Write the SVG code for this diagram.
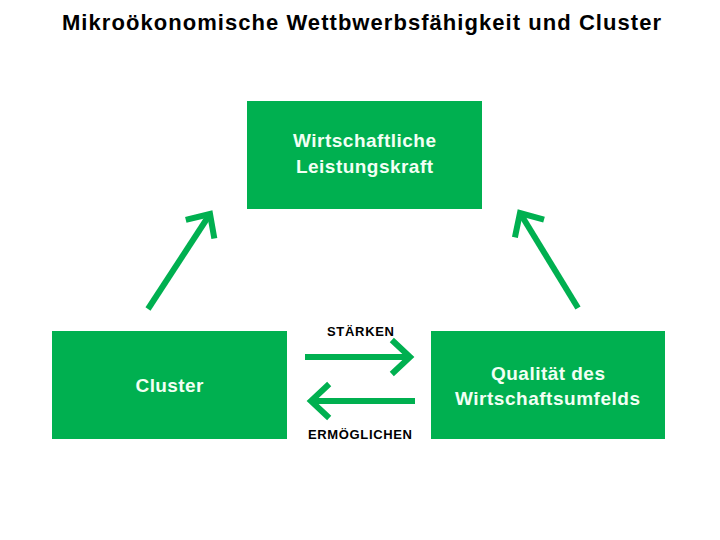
<svg xmlns="http://www.w3.org/2000/svg" width="720" height="540" viewBox="0 0 720 540">
<style>
.box{fill:#00B050}
.bt{font-family:"Liberation Sans",Arial,sans-serif;font-weight:bold;font-size:19px;fill:#F2FFF4;text-anchor:middle}
.lbl{font-family:"Liberation Sans",Arial,sans-serif;font-weight:bold;font-size:13px;fill:#000;text-anchor:middle}
.title{font-family:"Liberation Sans",Arial,sans-serif;font-weight:bold;font-size:22px;fill:#000;text-anchor:middle}
.conn{stroke:#00B050;stroke-width:6;fill:none}
</style>
<defs>
<marker id="chev" markerUnits="userSpaceOnUse" markerWidth="30" markerHeight="40" refX="22" refY="20" orient="auto" viewBox="0 0 30 40">
<polyline points="6,5 22,20 6,35" fill="none" stroke="#00B050" stroke-width="6" stroke-linecap="square" stroke-linejoin="miter"/>
</marker>
</defs>
<rect width="720" height="540" fill="#FFFFFF"/>
<text class="title" x="361.5" y="30" textLength="599" lengthAdjust="spacing">Mikroökonomische Wettbwerbsfähigkeit und Cluster</text>
<g id="node-leistung">
<rect class="box" x="247" y="101" width="235" height="108"/>
<text class="bt" x="364.5" y="147" textLength="143" lengthAdjust="spacing">Wirtschaftliche</text>
<text class="bt" x="364.5" y="173" textLength="137" lengthAdjust="spacing">Leistungskraft</text>
</g>
<g id="node-cluster">
<rect class="box" x="52" y="331" width="235" height="108"/>
<text class="bt" x="169.5" y="392" textLength="68" lengthAdjust="spacing">Cluster</text>
</g>
<g id="node-umfeld">
<rect class="box" x="431" y="331" width="234" height="108"/>
<text class="bt" x="548" y="380" textLength="114" lengthAdjust="spacing">Qualität des</text>
<text class="bt" x="547.5" y="405" textLength="185" lengthAdjust="spacing">Wirtschaftsumfelds</text>
</g>
<g id="connectors">
<line class="conn" x1="148" y1="309" x2="210" y2="214" marker-end="url(#chev)"/>
<line class="conn" x1="578" y1="308" x2="520" y2="213" marker-end="url(#chev)"/>
<line class="conn" x1="305" y1="357" x2="410" y2="357" marker-end="url(#chev)"/>
<line class="conn" x1="415" y1="401" x2="311" y2="401" marker-end="url(#chev)"/>
<text class="lbl" x="360.5" y="336" textLength="67" lengthAdjust="spacing">STÄRKEN</text>
<text class="lbl" x="360" y="439" textLength="104" lengthAdjust="spacing">ERMÖGLICHEN</text>
</g>
</svg>
